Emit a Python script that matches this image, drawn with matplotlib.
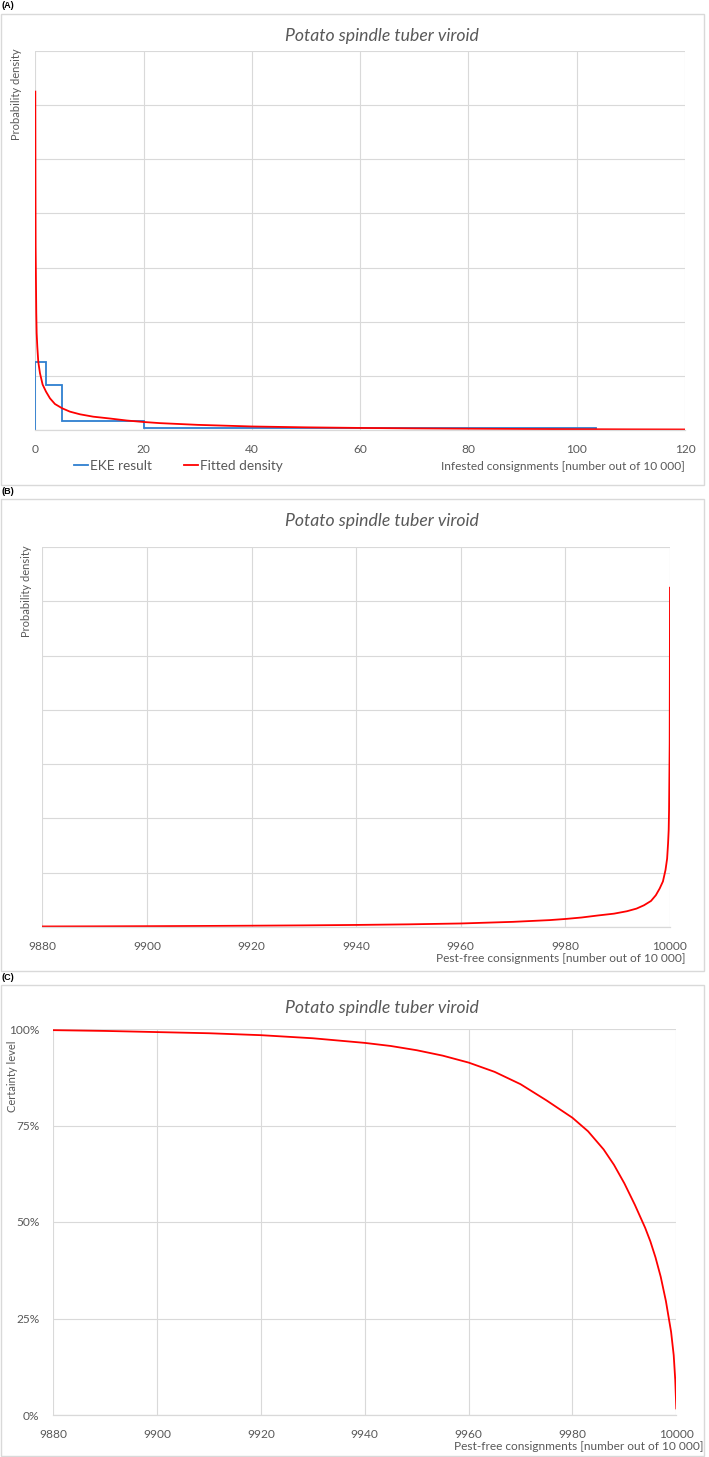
import numpy as np
import matplotlib
matplotlib.use("Agg")
import matplotlib.pyplot as plt
from matplotlib.patches import Rectangle
from matplotlib.ticker import FuncFormatter

plt.rcParams['font.family'] = ['Lato', 'DejaVu Sans']

# ---------------- data ----------------
title = "Potato spindle tuber viroid"

# EKE result (step density), panel A
eke_edges = [0, 2, 5, 20, 103.5]
eke_density = [0.125, 0.0833, 0.0167, 0.003]

# Fitted density (infested consignments out of 10 000)
fit_infested = [0.0, 0.03, 0.06, 0.12, 0.18, 0.25, 0.37, 0.55, 0.86, 1.35, 1.97,
                2.71, 3.63, 4.98, 6.4, 8.25, 10.7, 13.8, 16.9, 20, 23, 30, 40,
                50, 60, 70, 80, 90, 100, 110, 120]
fit_density = [0.625, 0.462, 0.339, 0.277, 0.216, 0.179, 0.154, 0.126, 0.105,
               0.084, 0.071, 0.0585, 0.048, 0.040, 0.0339, 0.029, 0.0246, 0.0212,
               0.0175, 0.0148, 0.0127, 0.0095, 0.0065, 0.0049, 0.0038, 0.003,
               0.0024, 0.0019, 0.0015, 0.0012, 0.001]

# Certainty level, panel C (pest-free consignments out of 10 000)
cert_pestfree = [9880, 9890, 9900, 9910, 9920, 9930, 9940, 9945, 9950, 9955,
                 9960, 9965, 9970, 9975, 9980, 9983, 9986, 9988, 9990, 9992,
                 9994, 9995, 9996, 9997, 9998, 9999, 9999.5, 9999.8, 10000]
cert_level = [0.997, 0.995, 0.992, 0.989, 0.984, 0.976, 0.964, 0.956, 0.945,
              0.931, 0.913, 0.889, 0.857, 0.815, 0.770, 0.735, 0.688, 0.648,
              0.600, 0.545, 0.485, 0.450, 0.408, 0.358, 0.295, 0.215, 0.155,
              0.090, 0.017]

xticks_A = [0, 20, 40, 60, 80, 100, 120]
xticks_BC = [9880, 9900, 9920, 9940, 9960, 9980, 10000]
yticks_C = [0, 0.25, 0.5, 0.75, 1.0]

# ---------------- layout ----------------
W, H = 709, 1457
fig = plt.figure(figsize=(W / 100, H / 100), dpi=100)
fig.patch.set_facecolor('white')

GRID = '#d9d9d9'
TXT = '#595959'
RED = '#ff0000'
BLUE = '#2e7fd0'
TICK_FS = 8.6
LAB_FS = 8.55
TITLE_FS = 12.7


def fx(x):
    return x / W


def fy(y):
    return 1 - y / H


def axes_px(x0, y0, x1, y1):
    return fig.add_axes([fx(x0), fy(y1), (x1 - x0) / W, (y1 - y0) / H])


def box(x0, y0, x1, y1):
    fig.patches.append(Rectangle((fx(x0), fy(y1)), (x1 - x0) / W, (y1 - y0) / H,
                                 transform=fig.transFigure, fill=False,
                                 edgecolor=GRID, linewidth=1.0))


def style(ax):
    for s in ['top', 'right', 'left']:
        ax.spines[s].set_visible(False)
    ax.spines['bottom'].set_color(GRID)
    ax.spines['bottom'].set_linewidth(0.9)
    ax.grid(True, color=GRID, linewidth=0.8)
    ax.set_axisbelow(True)
    ax.tick_params(length=0, colors=TXT, labelsize=TICK_FS)


# panel frames and labels
box(1, 14, 704, 485)
box(1, 499, 704, 971)
box(1, 985, 704, 1456)
for lab, y in [("(A)", 6), ("(B)", 492), ("(C)", 977)]:
    fig.text(fx(2), fy(y), lab, fontsize=6.5, fontweight='bold',
             family=['Liberation Sans', 'DejaVu Sans'], ha='left', va='center')

# ---------------- panel A ----------------
axA = axes_px(35.3, 51, 685, 430)
style(axA)
axA.stairs(eke_density, eke_edges, baseline=0, color=BLUE, linewidth=1.3,
           label='EKE result')
axA.plot(fit_infested, fit_density, color=RED, linewidth=1.3, label='Fitted density')
axA.set_xlim(0, 120)
axA.set_ylim(0, 0.7)
axA.set_xticks(xticks_A)
axA.set_yticks(np.arange(0, 0.71, 0.1))
axA.set_yticklabels([])
axA.tick_params(axis='x', pad=10)
fig.text(fx(285), fy(36), title, fontsize=TITLE_FS, style='italic', color=TXT,
         ha='left', va='center')
fig.text(fx(17), fy(48), "Probability density", rotation=90, fontsize=8,
         color=TXT, ha='center', va='top')
fig.text(fx(685), fy(466), "Infested consignments [number out of 10 000]",
         fontsize=LAB_FS, color=TXT, ha='right', va='center')
axA.legend(loc='center left', bbox_to_anchor=(fx(74), fy(466)),
           bbox_transform=fig.transFigure, ncol=2, frameon=False,
           fontsize=9.8, labelcolor=TXT, handlelength=1.05, handletextpad=0.15,
           columnspacing=2.3, borderpad=0, borderaxespad=0)

# ---------------- panel B ----------------
axB = axes_px(42.3, 547, 670, 927)
style(axB)
pest_free_fit = 10000 - np.array(fit_infested)
axB.plot(pest_free_fit, fit_density, color=RED, linewidth=1.3)
axB.set_xlim(9880, 10000)
axB.set_ylim(0, 0.7)
axB.set_xticks(xticks_BC)
axB.set_yticks(np.arange(0, 0.71, 0.1))
axB.set_yticklabels([])
axB.tick_params(axis='x', pad=10)
fig.text(fx(285), fy(521), title, fontsize=TITLE_FS, style='italic', color=TXT,
         ha='left', va='center')
fig.text(fx(27), fy(545), "Probability density", rotation=90, fontsize=8,
         color=TXT, ha='center', va='top')
fig.text(fx(685), fy(959), "Pest-free consignments [number out of 10 000]",
         fontsize=LAB_FS, color=TXT, ha='right', va='center')

# ---------------- panel C ----------------
axC = axes_px(53.3, 1029, 676.3, 1415)
style(axC)
axC.plot(cert_pestfree, cert_level, color=RED, linewidth=1.3)
axC.set_xlim(9880, 10000)
axC.set_ylim(0, 1)
axC.set_xticks(xticks_BC)
axC.set_yticks(yticks_C)
axC.yaxis.set_major_formatter(FuncFormatter(lambda v, p: f"{v*100:.0f}%"))
axC.tick_params(axis='x', pad=10)
axC.tick_params(axis='y', pad=10)
fig.text(fx(285), fy(1008), title, fontsize=TITLE_FS, style='italic', color=TXT,
         ha='left', va='center')
fig.text(fx(12), fy(1040), "Certainty level", rotation=90, fontsize=8,
         color=TXT, ha='center', va='top')
fig.text(fx(704), fy(1447), "Pest-free consignments [number out of 10 000]",
         fontsize=LAB_FS, color=TXT, ha='right', va='center')

fig.savefig("out.png", dpi=100, facecolor='white')
